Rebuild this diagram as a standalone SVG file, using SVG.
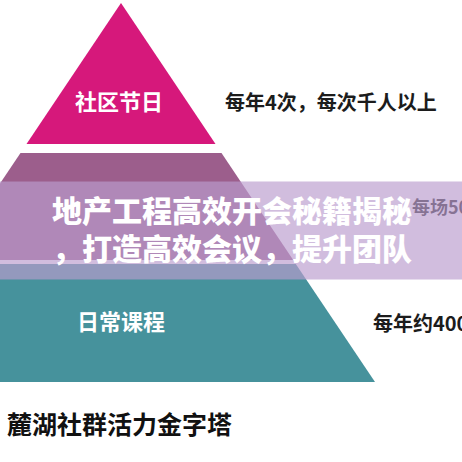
<svg xmlns="http://www.w3.org/2000/svg" width="462" height="462" viewBox="0 0 462 462">
  <style>
    .cjk { font-family: "Noto Sans CJK SC", "Noto Sans", sans-serif; font-weight: 700; }
    .lbl { fill: #ffffff; font-size: 22px; text-anchor: middle; }
    .note { fill: #1c1c1c; font-size: 20px; }
    .banner { fill: #ffffff; font-size: 30px; font-weight: 900; }
  </style>
  <rect width="462" height="462" fill="#ffffff"/>
  <g id="layer-top">
    <polygon points="121,3 215.5,144 26.5,144" fill="#d6187b"/>
    <text class="cjk lbl" x="119" y="110">社区节日</text>
  </g>
  <g id="layer-middle">
    <polygon points="20.5,153 221.5,153 293.2,260 0,260 0,183.6" fill="#9c5e8c"/>
  </g>
  <g id="layer-bottom">
    <polygon points="0,264 295.8,264 375,382 0,382" fill="#46929c"/>
    <text class="cjk lbl" x="121" y="330">日常课程</text>
  </g>
  <g id="notes">
    <text class="cjk note" x="225" y="110">每年4次，每次千人以上</text>
    <text class="cjk note" x="412" y="213.5" style="font-size:18px">每场50</text>
    <text class="cjk note" x="373" y="331">每年约400</text>
  </g>
  <g id="overlay-banner">
    <rect x="0" y="181.5" width="462" height="98" fill="rgb(186,157,206)" fill-opacity="0.67"/>
    <text class="cjk banner" x="52" y="222">地产工程高效开会秘籍揭秘</text>
    <text class="cjk banner" x="52" y="259.5">，打造高效会议，提升团队</text>
  </g>
  <g id="caption">
    <text class="cjk" x="7" y="433.5" fill="#111111" style="font-size:25px">麓湖社群活力金字塔</text>
  </g>
  <g id="connectors"/>
</svg>
